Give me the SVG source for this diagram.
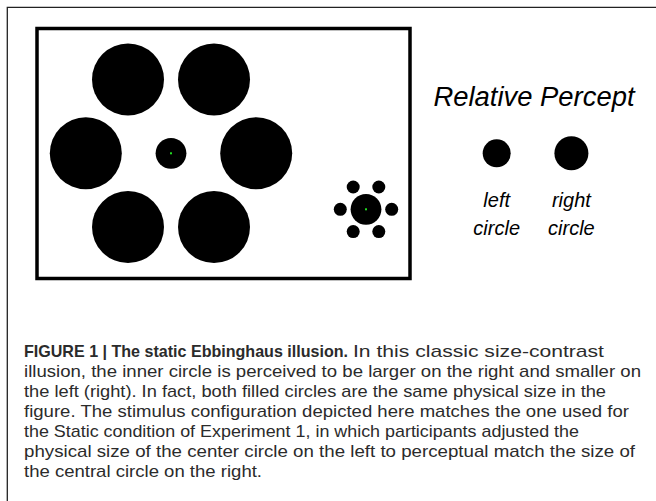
<svg xmlns="http://www.w3.org/2000/svg" width="656" height="501" viewBox="0 0 656 501">
<style>
.blk{fill:#000}
.dot{fill:#22dd22}
.lab{font-family:"Liberation Sans",Arial,sans-serif;font-style:italic;fill:#000;text-anchor:middle}
.cap{font-family:"Liberation Sans Narrow","Liberation Sans",Arial,sans-serif;font-size:17px;fill:#2b2b2b}
.capb{font-weight:bold}
</style>
<rect width="656" height="501" fill="#fff"/>
<path d="M7.3 501 V7.3 H656" fill="none" stroke="#222" stroke-width="1.3"/>
<g id="stimulus">
<rect x="37" y="28.5" width="373" height="250" fill="none" stroke="#000" stroke-width="3.5"/>
<g id="left-configuration">
<circle class="blk" cx="128" cy="79.5" r="36"/>
<circle class="blk" cx="214" cy="79.5" r="36"/>
<circle class="blk" cx="85.8" cy="153.3" r="36"/>
<circle class="blk" cx="256.2" cy="153.3" r="36"/>
<circle class="blk" cx="128" cy="227.1" r="36"/>
<circle class="blk" cx="214" cy="227.1" r="36"/>
<circle class="blk" cx="171" cy="153.3" r="15.4"/>
<rect class="dot" x="170" y="152.3" width="2" height="2"/>
</g>
<g id="right-configuration">
<circle class="blk" cx="366" cy="209.3" r="15.4"/>
<circle class="blk" cx="353.2" cy="187" r="6.5"/>
<circle class="blk" cx="378.8" cy="187" r="6.5"/>
<circle class="blk" cx="340.3" cy="209.3" r="6.5"/>
<circle class="blk" cx="391.7" cy="209.3" r="6.5"/>
<circle class="blk" cx="353.2" cy="231.6" r="6.5"/>
<circle class="blk" cx="378.8" cy="231.6" r="6.5"/>
<rect class="dot" x="365" y="208.3" width="2" height="2"/>
</g>
</g>
<g id="relative-percept">
<text class="lab" x="534" y="106" font-size="27" textLength="201" lengthAdjust="spacingAndGlyphs">Relative Percept</text>
<circle class="blk" cx="496.7" cy="153.3" r="14"/>
<circle class="blk" cx="571.4" cy="153.2" r="17"/>
<text class="lab" x="496.7" y="207" font-size="20">left</text>
<text class="lab" x="496.7" y="235" font-size="20">circle</text>
<text class="lab" x="571.4" y="207" font-size="20">right</text>
<text class="lab" x="571.4" y="235" font-size="20">circle</text>
</g>
<g id="caption">
<text class="cap capb" x="24" y="357" textLength="324" lengthAdjust="spacingAndGlyphs">FIGURE 1 | The static Ebbinghaus illusion.</text>
<text class="cap" x="353" y="357" textLength="251" lengthAdjust="spacingAndGlyphs">In this classic size-contrast</text>
<text class="cap" x="24" y="377" textLength="617" lengthAdjust="spacingAndGlyphs">illusion, the inner circle is perceived to be larger on the right and smaller on</text>
<text class="cap" x="24" y="397" textLength="582" lengthAdjust="spacingAndGlyphs">the left (right). In fact, both filled circles are the same physical size in the</text>
<text class="cap" x="24" y="417" textLength="605" lengthAdjust="spacingAndGlyphs">figure. The stimulus configuration depicted here matches the one used for</text>
<text class="cap" x="24" y="437" textLength="555" lengthAdjust="spacingAndGlyphs">the Static condition of Experiment 1, in which participants adjusted the</text>
<text class="cap" x="24" y="457" textLength="611" lengthAdjust="spacingAndGlyphs">physical size of the center circle on the left to perceptual match the size of</text>
<text class="cap" x="24" y="477" textLength="238" lengthAdjust="spacingAndGlyphs">the central circle on the right.</text>
</g>
</svg>
